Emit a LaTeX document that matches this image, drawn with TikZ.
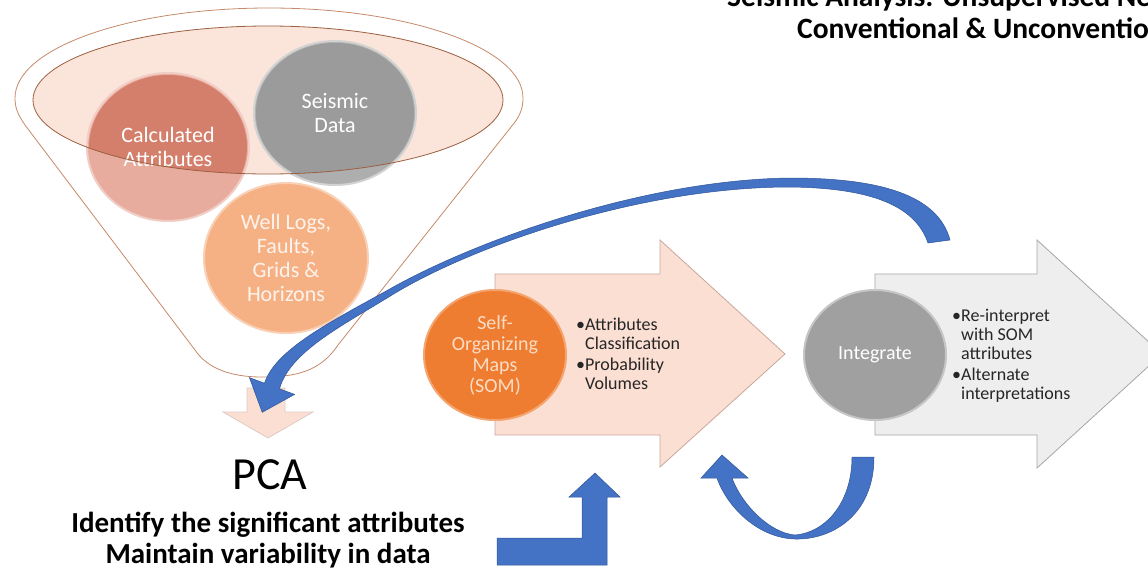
\documentclass[tikz,border=0pt]{standalone}
\usepackage{fontspec}
\setmainfont{Carlito}
\usetikzlibrary{shapes.geometric}

\definecolor{funnelln}{HTML}{C58A6A}
\definecolor{ringfill}{HTML}{FBE5DA}
\definecolor{ringln}{HTML}{9C5F40}
\definecolor{calclt}{HTML}{E8AC9E}
\definecolor{calcdk}{HTML}{D47F6B}
\definecolor{seislt}{HTML}{AEAEAE}
\definecolor{seisdk}{HTML}{9B9B9B}
\definecolor{welllt}{HTML}{F5B184}
\definecolor{somfill}{HTML}{EE7D31}
\definecolor{somtxt}{HTML}{FDDCC5}
\definecolor{integfill}{HTML}{A0A0A0}
\definecolor{pinkfill}{HTML}{FBDFD3}
\definecolor{pinkln}{HTML}{C9A79C}
\definecolor{greyfill}{HTML}{EEEEEE}
\definecolor{greyln}{HTML}{A6A6A6}
\definecolor{arrblue}{HTML}{4472C4}
\definecolor{arrbluedk}{HTML}{2F5597}

\tikzset{
  bub/.style={ellipse,inner sep=0pt,minimum width=162pt,minimum height=148pt,line width=2pt},
  bubsm/.style={ellipse,inner sep=0pt,minimum width=142pt,minimum height=130pt,line width=2pt,align=center,
    font=\fontsize{20}{21}\selectfont},
  bubtxt/.style={align=center,text=white,font=\fontsize{22}{24}\selectfont},
  funnel/.style={draw=funnelln,fill=white,line width=0.8pt},
  pinkarr/.style={fill=pinkfill,draw=pinkln,line width=0.8pt},
  greyarr/.style={fill=greyfill,draw=greyln,line width=0.8pt},
  bluearr/.style={fill=arrblue,draw=arrbluedk,line width=0.5pt},
  lst/.style={align=left,anchor=north west,inner sep=0pt,text=black!85,font=\fontsize{18}{19}\selectfont},
  ttl/.style={anchor=base west,inner sep=0pt,font=\bfseries\fontsize{29.5}{31}\selectfont}
}

\begin{document}
\begin{tikzpicture}[x=1pt,y=-1pt]
  \useasboundingbox (0,0) rectangle (1148,576);
  \clip (0,0) rectangle (1148,576);

  % title (cut at the page edge)
  \node[ttl] (ttl1) at (727,6) {Seismic Analysis: Unsupervised Ne};
  \node[ttl] (ttl2) at (797,38) {Conventional \& Unconventio};

  % funnel
  \draw[funnel] (15,98) .. controls (15,48) and (129,8) .. (269,8)
    .. controls (409,8) and (523,48) .. (523,98)
    .. controls (523,108) and (520,115) .. (515,122) -- (338,345)
    .. controls (320,372) and (295,377) .. (262,377)
    .. controls (225,377) and (205,365) .. (195,350) -- (25,125)
    .. controls (18,115) and (15,108) .. (15,98) -- cycle;
  \fill[ringfill] (268,100) ellipse [x radius=235, y radius=74];

  \node[bub, fill=calclt, draw=calclt!60!white] (calc) at (168,147) {};
  \node[bub, fill=seislt, draw=seislt!55!white, minimum height=144pt] (seis) at (335,113) {};
  \node[bub, fill=welllt, draw=welllt!60!white, minimum width=164pt, minimum height=150pt] (wells) at (286,258) {};

  \begin{scope}
    \clip (268,100) ellipse [x radius=235, y radius=74];
    \fill[calcdk] (calc.center) ellipse [x radius=79, y radius=72];
    \fill[seisdk] (seis.center) ellipse [x radius=79, y radius=70];
  \end{scope}

  \node[bubtxt] (calctxt) at (calc) {Calculated\\Attributes};
  \node[bubtxt] (seistxt) at (seis) {Seismic\\Data};
  \node[bubtxt, text=white!85!welllt] (wellstxt) at (wells) {Well Logs,\\Faults,\\Grids \&\\Horizons};

  \draw[ringln, line width=0.8pt] (268,100) ellipse [x radius=235, y radius=74];

  % PCA
  \filldraw[pinkarr, draw=pinkln!60!white] (247,388) -- (285,388) -- (285,412) -- (313,412)
    -- (268,438) -- (223,412) -- (247,412) -- cycle;
  \node[anchor=base, inner sep=0pt, font=\fontsize{46}{52}\selectfont] (pca) at (270,489) {PCA};
  \node[anchor=north, inner sep=0pt, align=center, font=\bfseries\fontsize{29}{31}\selectfont]
    (goal) at (268,512) {Identify the significant attributes\\Maintain variability in data};

  % SOM step
  \filldraw[pinkarr] (495,274) -- (660,274) -- (660,240) -- (785,354) -- (660,467)
    -- (660,435) -- (495,435) -- cycle;
  \node[bubsm, fill=somfill, draw=somfill!70!white, text=somtxt] (som) at (495,355)
    {Self-\\Organizing\\Maps\\(SOM)};
  \node[lst] (somlist) at (576,318)
    {\textbullet Attributes\\\phantom{\textbullet}Classification\\[2pt]%
     \textbullet Probability\\\phantom{\textbullet}Volumes};

  % Integrate step
  \filldraw[greyarr] (875,274) -- (1037,274) -- (1037,240) -- (1162,354) -- (1037,468)
    -- (1037,435) -- (875,435) -- cycle;
  \node[bubsm, fill=integfill, draw=integfill!60!white, text=white] (integ) at (875,355) {Integrate};
  \node[lst] (integlist) at (952,309)
    {\textbullet Re-interpret\\\phantom{\textbullet}with SOM\\\phantom{\textbullet}attributes\\[2pt]%
     \textbullet Alternate\\\phantom{\textbullet}interpretations};

  % blue arrows
  \filldraw[bluearr] (950,240) .. controls (938,195) and (880,178) .. (790,178)
    .. controls (640,180) and (470,243) .. (388,290)
    .. controls (330,322) and (275,350) .. (264.5,383.2)
    -- (249.4,377.6) -- (262.2,412.3) -- (294.6,394.4) -- (279.5,388.8)
    .. controls (290,352) and (340,327) .. (392,295)
    .. controls (472,246) and (640,187) .. (790,187)
    .. controls (870,188) and (915,205) .. (928,243) -- cycle;
  \filldraw[bluearr] (497,538) -- (582,538) -- (582,497) -- (569,497) -- (595,473)
    -- (620,497) -- (607,497) -- (607,565) -- (497,565) -- cycle;
  \filldraw[bluearr] (874,457) .. controls (874,515) and (832,540) .. (795,539)
    .. controls (758,538) and (727,507) .. (717,478) -- (701,478) -- (722,455)
    -- (748,478) -- (732,478) .. controls (742,505) and (770,533) .. (795,535)
    .. controls (828,532) and (852,500) .. (852,457) -- cycle;
\end{tikzpicture}
\end{document}
